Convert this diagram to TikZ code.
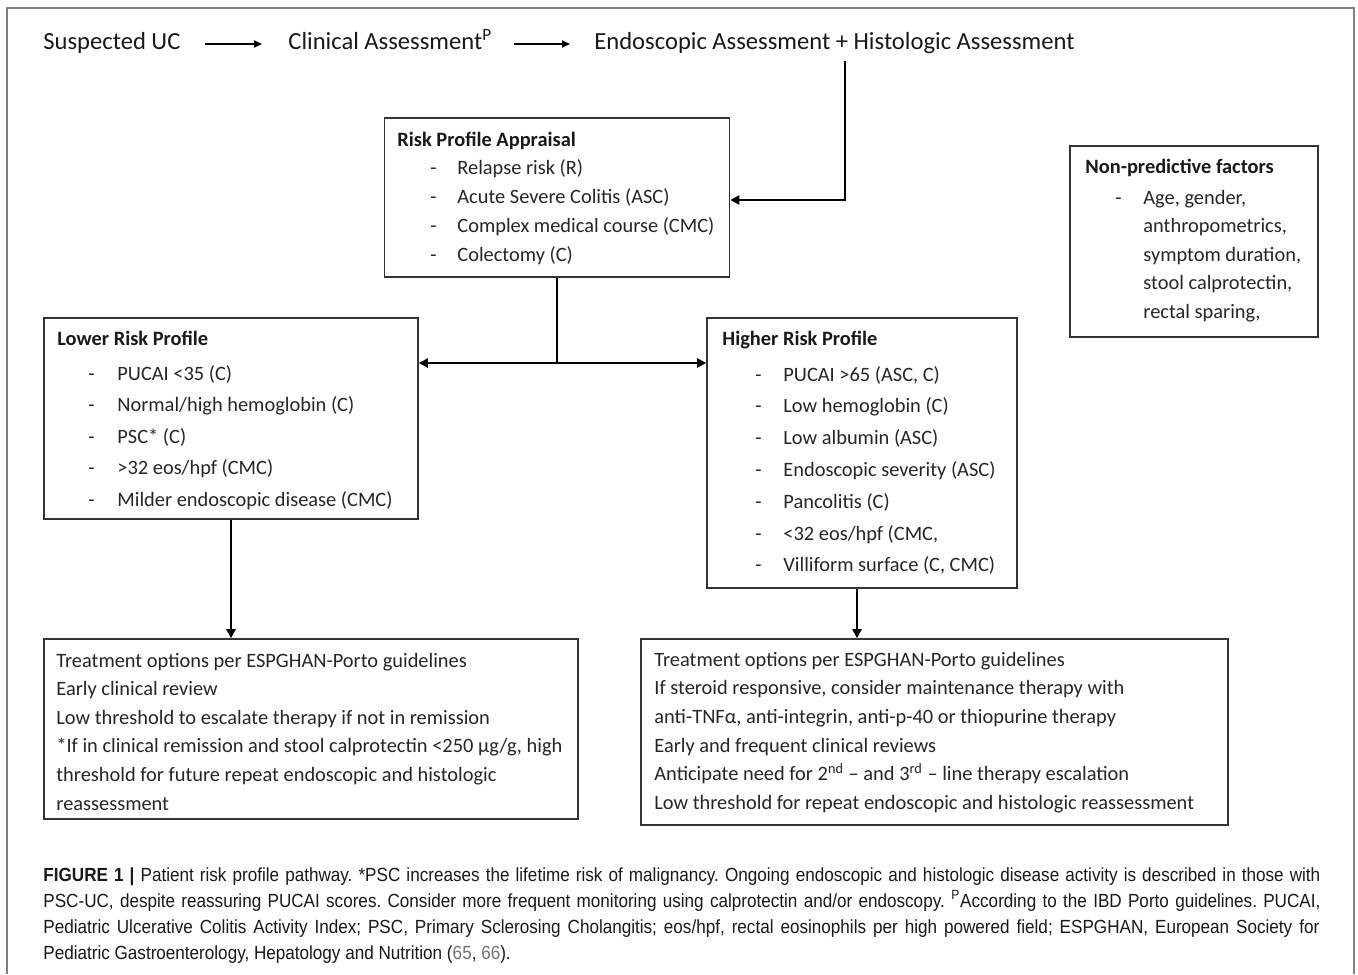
\documentclass[tikz,border=0pt]{standalone}
\usepackage{fontspec}
\setmainfont{Carlito}
\newfontfamily\capfont[FakeStretch=0.9]{Liberation Sans}
\usetikzlibrary{arrows.meta}
\frenchspacing
\begin{document}
\begin{tikzpicture}[x=0.5pt,y=-0.5pt,
  box/.style={draw=black!80, line width=0.8pt, inner sep=0, rectangle},
  txt/.style={anchor=base west, inner sep=0, text=black!85, font=\fontsize{10.2}{12}\selectfont},
  ttl/.style={anchor=base west, inner sep=0, text=black!90, font=\bfseries\fontsize{10.2}{12}\selectfont},
  head/.style={anchor=base west, inner sep=0, text=black!90, font=\fontsize{12.3}{14}\selectfont},
  captxt/.style={anchor=base west, inner sep=0, text=black!90, font=\capfont\fontsize{9.5}{13}\selectfont},
  conn/.style={line width=1pt, -{Triangle[length=4.5pt,width=4.5pt]}},
  flowarrow/.style={line width=0.9pt, -{Triangle[length=4pt,width=3.5pt]}},
  outerframe/.style={draw=black!50, line width=1pt}]
\useasboundingbox (0,0) rectangle (1358,974);
\fill[white] (0,0) rectangle (1358,974);
\draw[outerframe] (7,974) -- (7,8) -- (1354,8) -- (1354,974);

% top flow
\node[head] (s) at (43,49.5) {Suspected UC};
\node[head] (c) at (288,49.5) {Clinical Assessment\textsuperscript{P}};
\node[head] (e) at (594,49.5) {Endoscopic Assessment + Histologic Assessment};
\draw[flowarrow, shorten <=12pt, shorten >=13pt] ([yshift=2.75pt]s.base east) -- ([yshift=2.75pt]c.base west);
\draw[flowarrow, shorten <=10.5pt, shorten >=12pt] ([yshift=2.75pt]c.base east) -- ([yshift=2.75pt]e.base west);

% boxes
\node[box, minimum width=172.5pt, minimum height=79.5pt] (r) at (557,197.5) {};
\node[box, minimum width=187pt, minimum height=100.5pt] (lo) at (231,418.5) {};
\node[box, minimum width=155pt, minimum height=135pt] (hi) at (862,453) {};
\node[box, minimum width=124pt, minimum height=95.5pt] (np) at (1194,241.5) {};
\node[box, minimum width=267pt, minimum height=90pt] (lt) at (311,729) {};
\node[box, minimum width=293.5pt, minimum height=93pt] (rt) at (934.5,732) {};

% connectors
\coordinate (k) at (845,200);
\draw[conn, shorten <=3.5pt] (e.south -| k) -- (k) -- (k -| r.east);
\coordinate (j) at (557,363);
\draw[line width=1pt] (r.south) -- (j);
\draw[conn] (j) -- (j -| lo.east);
\draw[conn] (j) -- (j -| hi.west);
\draw[conn] (lo.south) -- (lo.south |- lt.north);
\draw[conn] ([xshift=-2.5pt]hi.south) -- ([xshift=-2.5pt]hi.south |- rt.north);

% risk profile appraisal
\node[ttl] (rt0) at (397,147) {Risk Profile Appraisal};
\foreach \t [count=\i] in {{Relapse risk (R)},{Acute Severe Colitis (ASC)},{Complex medical course (CMC)},{Colectomy (C)}} {
  \node[txt] (rd\i) at (430,{174+29*(\i-1)}) {-};
  \node[txt] (ri\i) at (457,{174+29*(\i-1)}) {\t};
}

% lower risk
\node[ttl] (lo0) at (57,345) {Lower Risk Profile};
\foreach \t [count=\i] in {{PUCAI <35 (C)},{Normal/high hemoglobin (C)},{PSC* (C)},{>32 eos/hpf (CMC)},{Milder endoscopic disease (CMC)}} {
  \node[txt] (lod\i) at (88,{380+31.5*(\i-1)}) {-};
  \node[txt] (loi\i) at (117,{380+31.5*(\i-1)}) {\t};
}

% higher risk
\node[ttl] (hi0) at (722,345) {Higher Risk Profile};
\foreach \t [count=\i] in {{PUCAI >65 (ASC, C)},{Low hemoglobin (C)},{Low albumin (ASC)},{Endoscopic severity (ASC)},{Pancolitis (C)},{<32 eos/hpf (CMC,},{Villiform surface (C, CMC)}} {
  \node[txt] (hid\i) at (755,{381+31.8*(\i-1)}) {-};
  \node[txt] (hii\i) at (783,{381+31.8*(\i-1)}) {\t};
}

% non-predictive
\node[ttl] (np0) at (1085,173) {Non-predictive factors};
\node[txt] (npd) at (1115,204) {-};
\foreach \t [count=\i] in {{Age, gender,},{anthropometrics,},{symptom duration,},{stool calprotectin,},{rectal sparing,}} {
  \node[txt] (npi\i) at (1143,{204+28.5*(\i-1)}) {\t};
}

% left treatment
\foreach \t [count=\i] in {{Treatment options per ESPGHAN-Porto guidelines},{Early clinical review},{Low threshold to escalate therapy if not in remission},{*If in clinical remission and stool calprotectin <250 µg/g, high},{threshold for future repeat endoscopic and histologic},{reassessment}} {
  \node[txt] (lti\i) at (56,{667+28.6*(\i-1)}) {\t};
}

% right treatment
\foreach \t [count=\i] in {{Treatment options per ESPGHAN-Porto guidelines},{If steroid responsive, consider maintenance therapy with},{anti-TNFα, anti-integrin, anti-p-40 or thiopurine therapy},{Early and frequent clinical reviews},{Anticipate need for 2\textsuperscript{nd} – and 3\textsuperscript{rd} – line therapy escalation},{Low threshold for repeat endoscopic and histologic reassessment}} {
  \node[txt] (rti\i) at (654,{666+28.7*(\i-1)}) {\t};
}

% caption
\node[captxt] (cap1) at (43,881) {\makebox[638.5pt][s]{\textbf{FIGURE 1 |} Patient risk profile pathway. *PSC increases the lifetime risk of malignancy. Ongoing endoscopic and histologic disease activity is described in those with}};
\node[captxt] (cap2) at (43,907) {\makebox[638.5pt][s]{PSC-UC, despite reassuring PUCAI scores. Consider more frequent monitoring using calprotectin and/or endoscopy. \textsuperscript{P}According to the IBD Porto guidelines. PUCAI,}};
\node[captxt] (cap3) at (43,933) {\makebox[638pt][s]{Pediatric Ulcerative Colitis Activity Index; PSC, Primary Sclerosing Cholangitis; eos/hpf, rectal eosinophils per high powered field; ESPGHAN, European Society for}};
\node[captxt] (cap4) at (43,959) {Pediatric Gastroenterology, Hepatology and Nutrition ({\color{black!55}65}, {\color{black!55}66}).};
\end{tikzpicture}
\end{document}
